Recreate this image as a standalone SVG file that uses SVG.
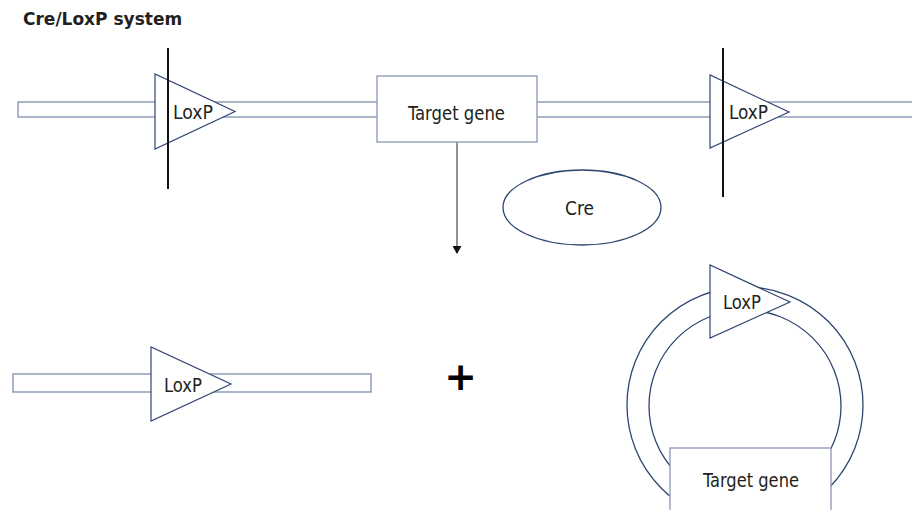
<svg xmlns="http://www.w3.org/2000/svg" width="912" height="510" viewBox="0 0 912 510">
<style>
.bar{fill:#fff;stroke:#7f8fb0;stroke-width:1.3}
.tri{fill:#fff;stroke:#2f4670;stroke-width:1.2}
.ring{fill:none;stroke:#2f4670;stroke-width:1.3}
.box{fill:#fff;stroke:#8a98b4;stroke-width:1.3}
.vline{stroke:#111;stroke-width:2}
.lbl{font-family:"DejaVu Sans Condensed","DejaVu Sans",sans-serif;font-stretch:condensed;font-size:19.5px;fill:#231f20}
.mid{text-anchor:middle}
</style>
<defs>
<marker id="ah" markerWidth="8" markerHeight="9" refX="7" refY="4.5" orient="auto" markerUnits="userSpaceOnUse">
<path d="M0,0 L8,4.5 L0,9 Z" fill="#111"/>
</marker>
</defs>
<text x="23" y="25" style="font-family:'DejaVu Sans',sans-serif;font-weight:bold;font-size:17px;fill:#231f20">Cre/LoxP system</text>
<g id="top-strand">
<rect class="bar" x="18" y="102" width="900" height="15"/>
</g>
<g id="connectors">
<line x1="457" y1="142" x2="457" y2="253" stroke="#555" stroke-width="1.3" marker-end="url(#ah)"/>
</g>
<g id="loxp-1">
<polygon class="tri" points="155,74 155,149 235,111.5"/>
<line class="vline" x1="168" y1="48" x2="168" y2="189"/>
<text class="lbl" x="173" y="119" textLength="40" lengthAdjust="spacingAndGlyphs">LoxP</text>
</g>
<g id="target-gene-top">
<rect class="box" x="377" y="76" width="160" height="66"/>
<text class="lbl" x="408" y="120" textLength="97" lengthAdjust="spacingAndGlyphs">Target gene</text>
</g>
<g id="loxp-2">
<polygon class="tri" points="710,75 710,148 789,112"/>
<line class="vline" x1="723" y1="48" x2="723" y2="197"/>
<text class="lbl" x="729" y="119" textLength="39" lengthAdjust="spacingAndGlyphs">LoxP</text>
</g>
<g id="cre">
<ellipse class="ring" cx="582" cy="207.5" rx="79" ry="37.5"/>
<text class="lbl" x="565" y="215" textLength="29" lengthAdjust="spacingAndGlyphs">Cre</text>
</g>
<g id="bottom-strand">
<rect class="bar" x="13" y="374" width="358" height="18"/>
<polygon class="tri" points="151,347 151,421 231,384"/>
<text class="lbl" x="164" y="392" textLength="38" lengthAdjust="spacingAndGlyphs">LoxP</text>
</g>
<g id="plus">
<text x="460.5" y="390" text-anchor="middle" style="font-family:'DejaVu Sans',sans-serif;font-weight:bold;font-size:39px;fill:#000">+</text>
</g>
<g id="plasmid">
<circle class="ring" cx="745" cy="405" r="118"/>
<circle class="ring" cx="745" cy="406" r="96"/>
<polygon class="tri" points="710,265 710,338 790,302"/>
<text class="lbl" x="723" y="309" textLength="38" lengthAdjust="spacingAndGlyphs">LoxP</text>
<rect class="box" x="670" y="448" width="161" height="70"/>
<text class="lbl" x="703" y="487" textLength="96" lengthAdjust="spacingAndGlyphs">Target gene</text>
</g>
</svg>
